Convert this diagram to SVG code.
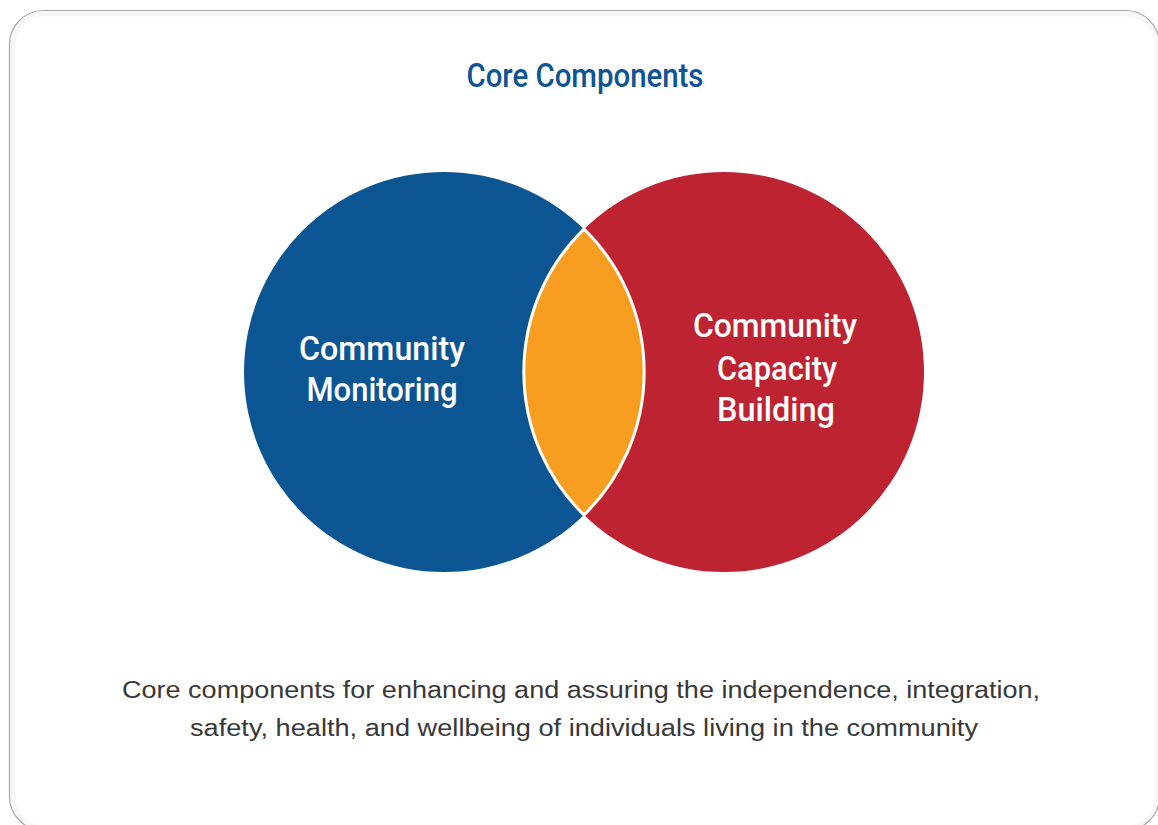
<svg xmlns="http://www.w3.org/2000/svg" width="1158" height="825" viewBox="0 0 1158 825">
<style>
.lbl{font-family:Roboto,"Liberation Sans",sans-serif;font-weight:500;font-size:34px;fill:#ffffff;text-anchor:middle}
.title{font-family:Roboto,"Liberation Sans",sans-serif;font-weight:500;font-size:33px;fill:#0c5494;text-anchor:middle}
.cap{font-family:"Liberation Sans",Arial,sans-serif;font-size:23px;fill:#383838;text-anchor:middle}
</style>
<rect x="0" y="0" width="1158" height="825" fill="#ffffff"/>
<rect x="13" y="14" width="1144" height="814" rx="31" fill="none" stroke="#f7f7f7" stroke-width="5"/>
<rect x="9.5" y="10.5" width="1150" height="820" rx="34" fill="none" stroke="#a8a8a8" stroke-width="1.2"/>
<g id="title"><text class="title" x="585" y="87" textLength="237" lengthAdjust="spacingAndGlyphs">Core Components</text></g>
<g id="monitoring">
<circle cx="444" cy="372" r="200" fill="#0b5593"/>
<text class="lbl" x="382" y="360" textLength="166" lengthAdjust="spacingAndGlyphs">Community</text>
<text class="lbl" x="382" y="401" textLength="151" lengthAdjust="spacingAndGlyphs">Monitoring</text>
</g>
<g id="capacity">
<circle cx="724" cy="372" r="200" fill="#be2332"/>
<text class="lbl" x="775" y="337" textLength="164" lengthAdjust="spacingAndGlyphs">Community</text>
<text class="lbl" x="777" y="380" textLength="120" lengthAdjust="spacingAndGlyphs">Capacity</text>
<text class="lbl" x="776" y="421" textLength="118" lengthAdjust="spacingAndGlyphs">Building</text>
</g>
<g id="overlap">
<path d="M584,229 A200,200 0 0 0 584,515 A200,200 0 0 0 584,229 Z" fill="#f79e20" stroke="#ffffff" stroke-width="3" stroke-linejoin="round"/>
</g>
<g id="connectors"></g>
<g id="caption">
<text class="cap" x="581" y="698" textLength="918" lengthAdjust="spacingAndGlyphs">Core components for enhancing and assuring the independence, integration,</text>
<text class="cap" x="584" y="736" textLength="788" lengthAdjust="spacingAndGlyphs">safety, health, and wellbeing of individuals living in the community</text>
</g>
</svg>
